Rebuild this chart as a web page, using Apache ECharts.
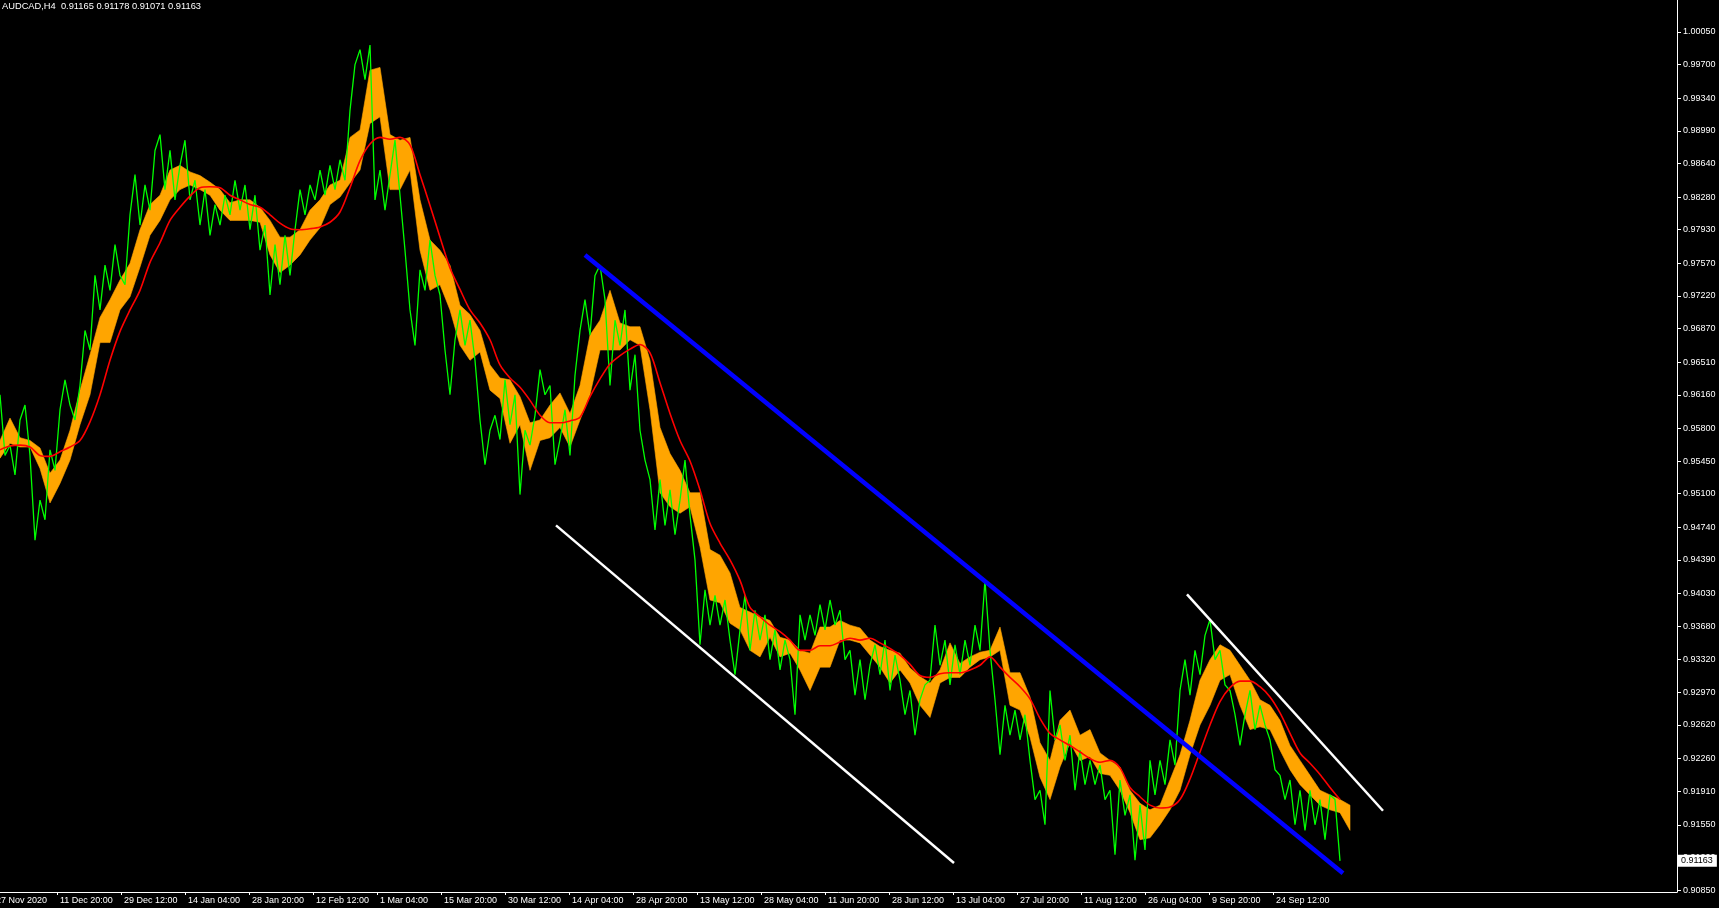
<!DOCTYPE html>
<html>
<head>
<meta charset="utf-8">
<script src="https://cdn.jsdelivr.net/npm/echarts@6/dist/echarts.min.js"></script>
<style>
html,body{margin:0;padding:0;background:#000;overflow:hidden;}
#chart{width:1719px;height:908px;}
</style>
</head>
<body>
<div id="chart"></div>
<script>
// ---- header ----
const symbolTitle = 'AUDCAD,H4';
const lastBarOHLC = [0.91165, 0.91178, 0.91071, 0.91163];

// ---- axis ticks ----
const priceTicks = [0.90850,0.91200,0.91550,0.91910,0.92260,0.92620,0.92970,0.93320,0.93680,0.94030,
  0.94390,0.94740,0.95100,0.95450,0.95800,0.96160,0.96510,0.96870,0.97220,0.97570,
  0.97930,0.98280,0.98640,0.98990,0.99340,0.99700,1.00050];
const timeLabels = ['27 Nov 2020','11 Dec 20:00','29 Dec 12:00','14 Jan 04:00','28 Jan 20:00','12 Feb 12:00',
  '1 Mar 04:00','15 Mar 20:00','30 Mar 12:00','14 Apr 04:00','28 Apr 20:00','13 May 12:00','28 May 04:00',
  '11 Jun 20:00','28 Jun 12:00','13 Jul 04:00','27 Jul 20:00','11 Aug 12:00','26 Aug 04:00','9 Sep 20:00','24 Sep 12:00'];
const timeLabelBars = [0,64,128,192,256,320,384,448,512,576,640,704,768,832,896,960,1024,1088,1152,1216,1280];

// ---- close price (green), sampled every 5 bars from bar 7 ----
const greenStartBar = 7, greenStep = 5;
const greenClose = [
0.9616,0.9551,0.9562,0.9530,0.9589,0.9605,0.9551,0.9460,0.9503,0.9482,
0.9557,0.9535,0.9600,0.9632,0.9605,0.9589,0.9626,0.9685,0.9664,0.9744,
0.9707,0.9755,0.9728,0.9777,0.9744,0.9734,0.9809,0.9852,0.9798,0.9841,
0.9814,0.9878,0.9895,0.9836,0.9878,0.9825,0.9862,0.9889,0.9825,0.9846,
0.9798,0.9836,0.9787,0.9820,0.9798,0.9830,0.9809,0.9846,0.9814,0.9841,
0.9793,0.9830,0.9771,0.9798,0.9723,0.9777,0.9734,0.9787,0.9744,0.9793,
0.9836,0.9809,0.9841,0.9825,0.9857,0.9830,0.9862,0.9836,0.9868,0.9846,
0.9921,0.9970,0.9986,0.9954,0.9991,0.9825,0.9857,0.9814,0.9852,0.9889,
0.9830,0.9771,0.9707,0.9669,0.9750,0.9728,0.9782,0.9744,0.9723,0.9664,
0.9616,0.9675,0.9707,0.9669,0.9696,0.9653,0.9589,0.9541,0.9578,0.9594,
0.9568,0.9632,0.9584,0.9616,0.9509,0.9578,0.9562,0.9594,0.9643,0.9616,
0.9626,0.9541,0.9568,0.9600,0.9551,0.9637,0.9685,0.9718,0.9680,0.9744,
0.9755,0.9718,0.9626,0.9696,0.9669,0.9707,0.9621,0.9659,0.9578,0.9546,
0.9525,0.9471,0.9525,0.9476,0.9514,0.9466,0.9503,0.9546,0.9487,0.9439,
0.9348,0.9407,0.9369,0.9401,0.9369,0.9396,0.9353,0.9316,0.9364,0.9401,
0.9342,0.9385,0.9353,0.9380,0.9332,0.9364,0.9321,0.9353,0.9332,0.9273,
0.9380,0.9353,0.9380,0.9358,0.9391,0.9364,0.9396,0.9369,0.9385,0.9332,
0.9342,0.9294,0.9332,0.9289,0.9326,0.9348,0.9316,0.9353,0.9299,0.9337,
0.9310,0.9273,0.9299,0.9251,0.9289,0.9305,0.9310,0.9369,0.9326,0.9353,
0.9305,0.9348,0.9316,0.9353,0.9326,0.9369,0.9342,0.9417,0.9342,0.9289,
0.9230,0.9283,0.9251,0.9278,0.9246,0.9273,0.9224,0.9182,0.9192,0.9155,
0.9299,0.9246,0.9262,0.9224,0.9251,0.9192,0.9235,0.9198,0.9224,0.9198,
0.9219,0.9182,0.9192,0.9123,0.9203,0.9165,0.9187,0.9117,0.9176,0.9128,
0.9224,0.9187,0.9224,0.9198,0.9246,0.9219,0.9299,0.9332,0.9294,0.9342,
0.9316,0.9358,0.9375,0.9332,0.9342,0.9305,0.9299,0.9273,0.9240,0.9273,
0.9299,0.9257,0.9283,0.9262,0.9246,0.9214,0.9208,0.9182,0.9203,0.9155,
0.9192,0.9149,0.9192,0.9155,0.9182,0.9139,0.9187,0.9182,0.91163];

// ---- orange band (upper / lower edge), every 10 bars from bar 7 ----
const bandStartBar = 7, bandStep = 10;
const bandHigh = [
0.9567,0.9591,0.9570,0.9567,0.9559,0.9532,0.9546,0.9578,0.9621,0.9659,
0.9699,0.9718,0.9739,0.9757,0.9793,0.9820,0.9830,0.9857,0.9862,0.9855,
0.9851,0.9844,0.9836,0.9822,0.9825,0.9825,0.9817,0.9803,0.9785,0.9785,
0.9793,0.9814,0.9825,0.9841,0.9846,0.9892,0.9900,0.9964,0.9967,0.9895,
0.9889,0.9892,0.9825,0.9782,0.9771,0.9755,0.9712,0.9702,0.9685,0.9648,
0.9634,0.9632,0.9614,0.9586,0.9589,0.9605,0.9618,0.9596,0.9626,0.9680,
0.9696,0.9728,0.9693,0.9689,0.9689,0.9653,0.9581,0.9553,0.9535,0.9511,
0.9511,0.9450,0.9444,0.9425,0.9388,0.9383,0.9378,0.9374,0.9356,0.9353,
0.9342,0.9339,0.9367,0.9367,0.9374,0.9369,0.9366,0.9353,0.9346,0.9342,
0.9339,0.9323,0.9314,0.9307,0.9321,0.9350,0.9328,0.9335,0.9340,0.9342,
0.9367,0.9318,0.9318,0.9292,0.9243,0.9224,0.9267,0.9278,0.9251,0.9257,
0.9232,0.9224,0.9217,0.9192,0.9178,0.9171,0.9176,0.9203,0.9230,0.9267,
0.9310,0.9332,0.9348,0.9342,0.9326,0.9310,0.9289,0.9283,0.9267,0.9240,
0.9224,0.9208,0.9192,0.9187,0.9182,0.9176];
const bandLow = [
0.9548,0.9564,0.9560,0.9560,0.9537,0.9500,0.9521,0.9546,0.9584,0.9616,
0.9672,0.9672,0.9707,0.9721,0.9753,0.9787,0.9803,0.9825,0.9836,0.9841,
0.9836,0.9830,0.9814,0.9803,0.9803,0.9803,0.9801,0.9766,0.9747,0.9755,
0.9766,0.9782,0.9795,0.9820,0.9828,0.9843,0.9857,0.9907,0.9914,0.9836,
0.9836,0.9857,0.9771,0.9728,0.9734,0.9707,0.9669,0.9653,0.9662,0.9621,
0.9612,0.9564,0.9584,0.9535,0.9567,0.9570,0.9581,0.9560,0.9589,0.9616,
0.9664,0.9664,0.9664,0.9675,0.9669,0.9600,0.9511,0.9496,0.9489,0.9496,
0.9453,0.9396,0.9393,0.9371,0.9364,0.9342,0.9335,0.9356,0.9335,0.9339,
0.9321,0.9299,0.9324,0.9324,0.9353,0.9353,0.9350,0.9337,0.9324,0.9307,
0.9321,0.9307,0.9283,0.9270,0.9307,0.9313,0.9313,0.9324,0.9332,0.9335,
0.9342,0.9283,0.9278,0.9249,0.9206,0.9182,0.9217,0.9243,0.9224,0.9228,
0.9210,0.9208,0.9192,0.9168,0.9139,0.9141,0.9155,0.9171,0.9192,0.9230,
0.9262,0.9283,0.9310,0.9316,0.9283,0.9257,0.9260,0.9257,0.9235,0.9214,
0.9198,0.9187,0.9176,0.9171,0.9168,0.9149];

// ---- red moving average, every 10 bars from bar 7 ----
const maStartBar = 7, maStep = 10;
const redMA = [
0.9557,0.9561,0.9562,0.9560,0.9551,0.9550,0.9555,0.9560,0.9567,0.9587,
0.9616,0.9653,0.9684,0.9707,0.9728,0.9758,0.9779,0.9803,0.9817,0.9829,
0.9838,0.9839,0.9838,0.9830,0.9825,0.9820,0.9817,0.9809,0.9800,0.9794,
0.9793,0.9794,0.9796,0.9801,0.9812,0.9838,0.9867,0.9885,0.9892,0.9890,
0.9892,0.9884,0.9852,0.9819,0.9785,0.9752,0.9729,0.9707,0.9693,0.9675,
0.9648,0.9634,0.9624,0.9610,0.9594,0.9586,0.9586,0.9588,0.9592,0.9614,
0.9633,0.9649,0.9658,0.9665,0.9670,0.9661,0.9629,0.9596,0.9567,0.9545,
0.9514,0.9478,0.9457,0.9439,0.9417,0.9388,0.9378,0.9369,0.9362,0.9353,
0.9342,0.9342,0.9347,0.9347,0.9351,0.9355,0.9353,0.9355,0.9350,0.9344,
0.9337,0.9327,0.9315,0.9313,0.9317,0.9318,0.9318,0.9321,0.9326,0.9335,
0.9324,0.9313,0.9303,0.9290,0.9269,0.9253,0.9246,0.9240,0.9233,0.9226,
0.9222,0.9224,0.9216,0.9195,0.9185,0.9176,0.9173,0.9174,0.9182,0.9204,
0.9233,0.9262,0.9287,0.9302,0.9309,0.9309,0.9303,0.9292,0.9275,0.9253,
0.9232,0.9221,0.9209,0.9195,0.9182];

// ---- hand-drawn trend lines [bar, price] ----
const blueTrend = [[592, 0.9766], [1350, 0.9103]];
const whiteTrend1 = [[563, 0.9476], [961, 0.9114]];
const whiteTrend2 = [[1194, 0.9402], [1390, 0.9170]];

// ---------------------------------------------------------------
const FONT = '"Liberation Sans", Arial, sans-serif';
const toPts = (arr, start, step) => arr.map((v, i) => [start + i * step, v]);
const bandData = bandHigh.map((h, i) => [bandStartBar + i * bandStep, h, bandLow[i]]);

function renderBand(params, api) {
  if (params.dataIndex !== 0) return null;
  const top = [], bottom = [];
  for (let i = 0; i < bandData.length; i++) {
    top.push(api.coord([bandData[i][0], bandData[i][1]]));
    bottom.push(api.coord([bandData[i][0], bandData[i][2]]));
  }
  const pts = top.concat(bottom.reverse());
  return {
    type: 'polygon',
    shape: {points: pts},
    style: {fill: '#FFA500', stroke: '#FFA500', lineWidth: 0.6}
  };
}

const chart = echarts.init(document.getElementById('chart'), null, {renderer: 'canvas'});
const option = {
  backgroundColor: '#000000',
  animation: false,
  title: {
    text: symbolTitle + '  ' + lastBarOHLC.map(v => v.toFixed(5)).join(' '),
    left: 2, top: 2, padding: 0,
    textStyle: {color: '#ffffff', fontSize: 9.3, fontWeight: 'normal', fontFamily: FONT}
  },
  grid: {left: 0, right: 42, top: 0, bottom: 16, containLabel: false},
  xAxis: {
    type: 'value', min: 7, max: 1684,
    splitLine: {show: false},
    axisLine: {show: true, onZero: false, lineStyle: {color: '#ffffff', width: 1}},
    axisTick: {show: true, length: 3, customValues: timeLabelBars.slice(1), lineStyle: {color: '#ffffff'}},
    axisLabel: {
      show: true, customValues: timeLabelBars.slice(1), align: 'left', margin: 4,
      padding: [0, 0, 0, 3],
      color: '#ffffff', fontSize: 9, fontFamily: FONT,
      formatter: v => { const k = timeLabelBars.indexOf(v); return k >= 0 ? timeLabels[k] : ''; }
    }
  },
  yAxis: {
    type: 'value', position: 'right', min: 0.90829, max: 1.00393, scale: true,
    splitLine: {show: false},
    axisLine: {show: true, onZero: false, lineStyle: {color: '#ffffff', width: 1}},
    axisTick: {show: true, length: 4, customValues: priceTicks, lineStyle: {color: '#ffffff'}},
    axisLabel: {
      show: true, customValues: priceTicks, margin: 6,
      color: '#ffffff', fontSize: 9, fontFamily: FONT,
      formatter: v => v.toFixed(5)
    }
  },
  series: [
    {
      type: 'custom', name: 'band', data: bandData, renderItem: renderBand,
      silent: true, z: 1, clip: true,
      encode: {x: 0, y: [1, 2]}
    },
    {
      type: 'line', name: 'close', data: toPts(greenClose, greenStartBar, greenStep),
      showSymbol: false, silent: true, z: 3,
      lineStyle: {width: 1.3, color: '#00FF00'},
      markLine: {
        symbol: 'none', silent: true, animation: false, precision: 5,
        lineStyle: {color: 'rgba(0,0,0,0)', width: 0},
        label: {
          position: 'end', distance: 1,
          formatter: p => Number(p.value).toFixed(5),
          backgroundColor: '#ffffff', color: '#000000',
          padding: [2, 4, 1, 3], fontSize: 9, fontFamily: FONT
        },
        data: [{yAxis: lastBarOHLC[3]}]
      }
    },
    {
      type: 'line', name: 'ma', data: toPts(redMA, maStartBar, maStep),
      showSymbol: false, silent: true, z: 4, smooth: 0.3,
      lineStyle: {width: 1.6, color: '#FF0000'}
    },
    {
      type: 'line', name: 'blueTrend', data: blueTrend, showSymbol: false, silent: true, z: 5,
      lineStyle: {width: 4.5, color: '#0000FF'}
    },
    {
      type: 'line', name: 'whiteTrend1', data: whiteTrend1, showSymbol: false, silent: true, z: 5,
      lineStyle: {width: 2.5, color: '#FFFFFF'}
    },
    {
      type: 'line', name: 'whiteTrend2', data: whiteTrend2, showSymbol: false, silent: true, z: 5,
      lineStyle: {width: 2.5, color: '#FFFFFF'}
    }
  ]
};
chart.setOption(option);

// first time label lies left of the visible axis start (clipped by the window edge)
const firstX = chart.convertToPixel({xAxisIndex: 0}, timeLabelBars[0]);
const axisY = chart.convertToPixel({yAxisIndex: 0}, 0.90829);
chart.setOption({
  graphic: [{
    type: 'text', silent: true, z: 10,
    x: firstX + 3, y: axisY + 4,
    style: {text: timeLabels[0], fill: '#ffffff', font: '9px ' + FONT, textVerticalAlign: 'top'}
  }]
});
</script>
</body>
</html>
